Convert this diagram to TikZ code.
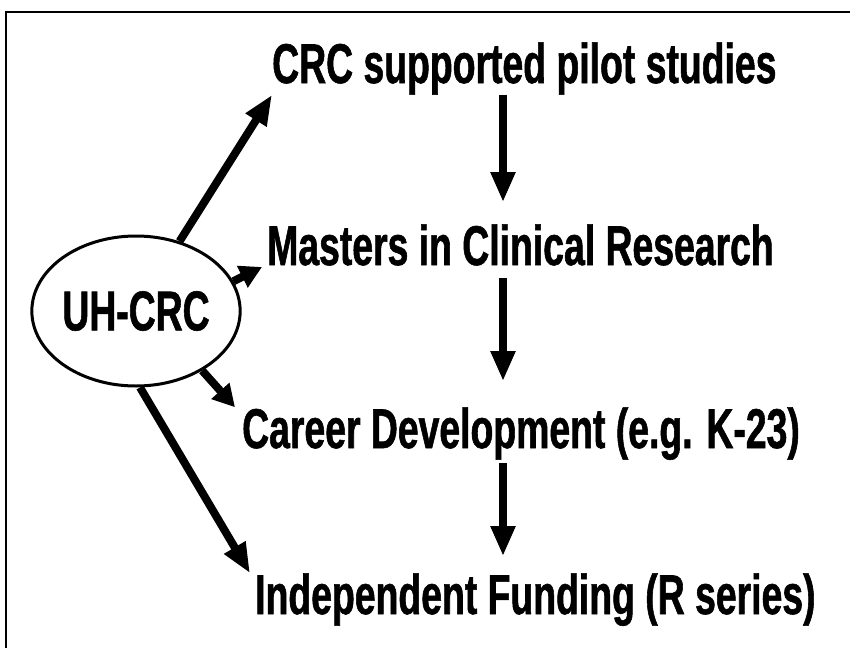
\documentclass[tikz,border=0pt]{standalone}
\usepackage{fontspec}
\setmainfont[FakeStretch=0.667,FakeBold=1]{Liberation Sans}
\usetikzlibrary{shapes,arrows.meta}

\begin{document}
\begin{tikzpicture}[x=1pt,y=-1pt,
    lbl/.style={font=\fontsize{56}{64}\selectfont\bfseries, inner sep=0pt, anchor=base west},
    link/.style={line width=8pt, -{Triangle[length=30pt,width=23pt]}},
    stub/.style={line width=8pt, -{Triangle[length=22pt,width=23pt]}}]
    % Page size and the frame along the top and left
    \useasboundingbox (0,0) rectangle (850,648);
    \draw[line width=2pt] (6,648) -- (6,12) -- (850,12);

    % Centre
    \node[ellipse, draw, line width=3pt, minimum width=188pt, minimum height=150pt,
          inner sep=0pt, font=\fontsize{56}{64}\selectfont\bfseries] (hub) at (136,311) {UH-CRC};

    % Steps
    \node[lbl] (pilot) at (272,83) {CRC supported pilot studies};
    \node[lbl] (masters) at (267,265) {Masters in Clinical Research};
    \node[lbl] (career) at (242,448) {Career Development (e.g. K-23)};
    \node[lbl] (indep) at (255,614) {Independent Funding (R series)};

    % Arrows out of the centre
    \draw[link] (hub.58) -- (pilot.south west);
    \draw[stub] (hub.17) -- ([xshift=-5pt,yshift=-2pt]masters.base west);
    \draw[stub] (hub.-42) -- ([xshift=-7pt]career.north west);
    \draw[link] (hub.-87) -- ([xshift=-5pt]indep.north west);

    % Arrows down the column
    \coordinate (col) at (503,0);
    \draw[link, shorten >=22pt] (pilot.south -| col) -- (masters.north -| col);
    \draw[link, shorten <=12pt, shorten >=26pt] (masters.south -| col) -- (career.north -| col);
    \draw[link, shorten <=3pt, shorten >=17pt] (career.south -| col) -- (indep.north -| col);
\end{tikzpicture}
\end{document}
